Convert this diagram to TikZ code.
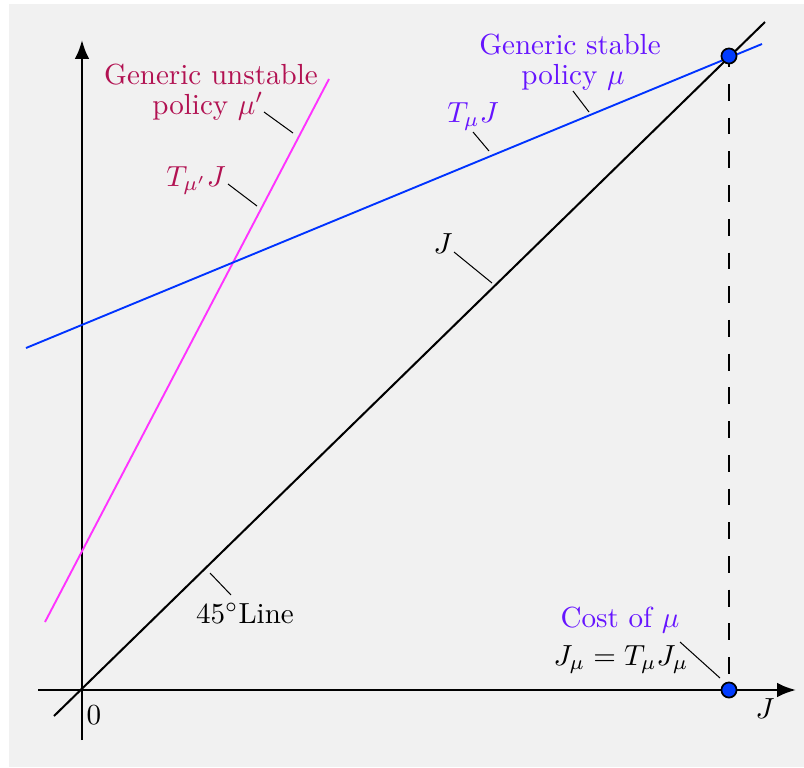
\documentclass[tikz,border=0pt]{standalone}
\usetikzlibrary{arrows.meta}
\definecolor{bgc}{RGB}{241,241,241}
\definecolor{crim}{RGB}{178,18,82}
\definecolor{viol}{RGB}{102,20,255}
\definecolor{lblue}{RGB}{0,51,255}
\definecolor{lmag}{RGB}{255,51,255}
\definecolor{dotc}{RGB}{0,60,255}
\tikzset{
  axis/.style={line width=0.85pt,-{Latex[length=6.5pt,width=5pt]}},
  pointer/.style={line width=0.35pt},
  lbl/.style={inner sep=0pt,anchor=base},
  fixdot/.style={circle,fill=dotc,draw=black,line width=0.6pt,inner sep=0pt,minimum size=5.2pt}
}
\begin{document}
\begin{tikzpicture}[x=0.344pt,y=-0.344pt]
\useasboundingbox (0,0) rectangle (804,767);
\fill[white] (0,0) rectangle (804,767);
\fill[bgc] (9,4) rectangle (804,767);
% coordinates
\coordinate (O) at (82,690);
\coordinate (yb) at (82,740);
\coordinate (yt) at (82,40);
\coordinate (xl) at (38,690);
\coordinate (xr) at (796,690);
\coordinate (d1) at (54,716);
\coordinate (d2) at (765,22);
\coordinate (b1) at (26,348);
\coordinate (b2) at (762,44);
\coordinate (m1) at (45,622);
\coordinate (m2) at (329,79);
% axes
\draw[axis] (yb) -- (yt);
\draw[axis] (xl) -- (xr);
% lines
\draw[line width=0.7pt] (d1) -- (d2);
\draw[lmag,line width=0.65pt] (m1) -- (m2);
\draw[lblue,line width=0.65pt] (b1) -- (b2);
% dashed drop line and dots
\coordinate (Pc) at (729,56);
\coordinate (Qc) at (729,690);
\draw[line width=0.4pt,dash pattern=on 5.8pt off 5.8pt,dash phase=2pt] (Pc) -- (Qc);
\node[fixdot] (P) at (Pc) {};
\node[fixdot] (Q) at (Qc) {};
% labels
\node[lbl,crim] (u1) at (211,84) {Generic unstable};
\node[lbl,crim] (u2) at (208,114) {policy $\mu'$};
\node[lbl,crim] (tmp) at (196,186) {$T_{\mu'}J$};
\node[lbl,viol] (s1) at (570,54) {Generic stable};
\node[lbl,viol] (s2) at (573,84) {policy $\mu$};
\node[lbl,viol] (tm) at (473,122) {$T_{\mu}J$};
\node[lbl] (jl) at (443,253) {$J$};
\node[lbl] (fl) at (245,623) {$45^\circ$Line};
\node[lbl] (zero) at (94,724) {$0$};
\node[lbl] (jax) at (765,718) {$J$};
\node[lbl,viol] (c1) at (620,627) {Cost of $\mu$};
\node[lbl] (c2) at (621,665) {$J_\mu=T_\mu J_\mu$};
% pointer ends
\coordinate (pu1) at (264,112); \coordinate (pu2) at (293,133);
\coordinate (pt1) at (228,184); \coordinate (pt2) at (257,206);
\coordinate (ps1) at (573,91);  \coordinate (ps2) at (589,112);
\coordinate (pm1) at (473,132); \coordinate (pm2) at (489,151);
\coordinate (pj1) at (454,252); \coordinate (pj2) at (492,283);
\coordinate (pf1) at (210,573); \coordinate (pf2) at (231,595);
\coordinate (pc1) at (680,642); \coordinate (pc2) at (720,678);
\draw[pointer] (pu1) -- (pu2);
\draw[pointer] (pt1) -- (pt2);
\draw[pointer] (ps1) -- (ps2);
\draw[pointer] (pm1) -- (pm2);
\draw[pointer] (pj1) -- (pj2);
\draw[pointer] (pf1) -- (pf2);
\draw[pointer] (pc1) -- (pc2);
\end{tikzpicture}
\end{document}
